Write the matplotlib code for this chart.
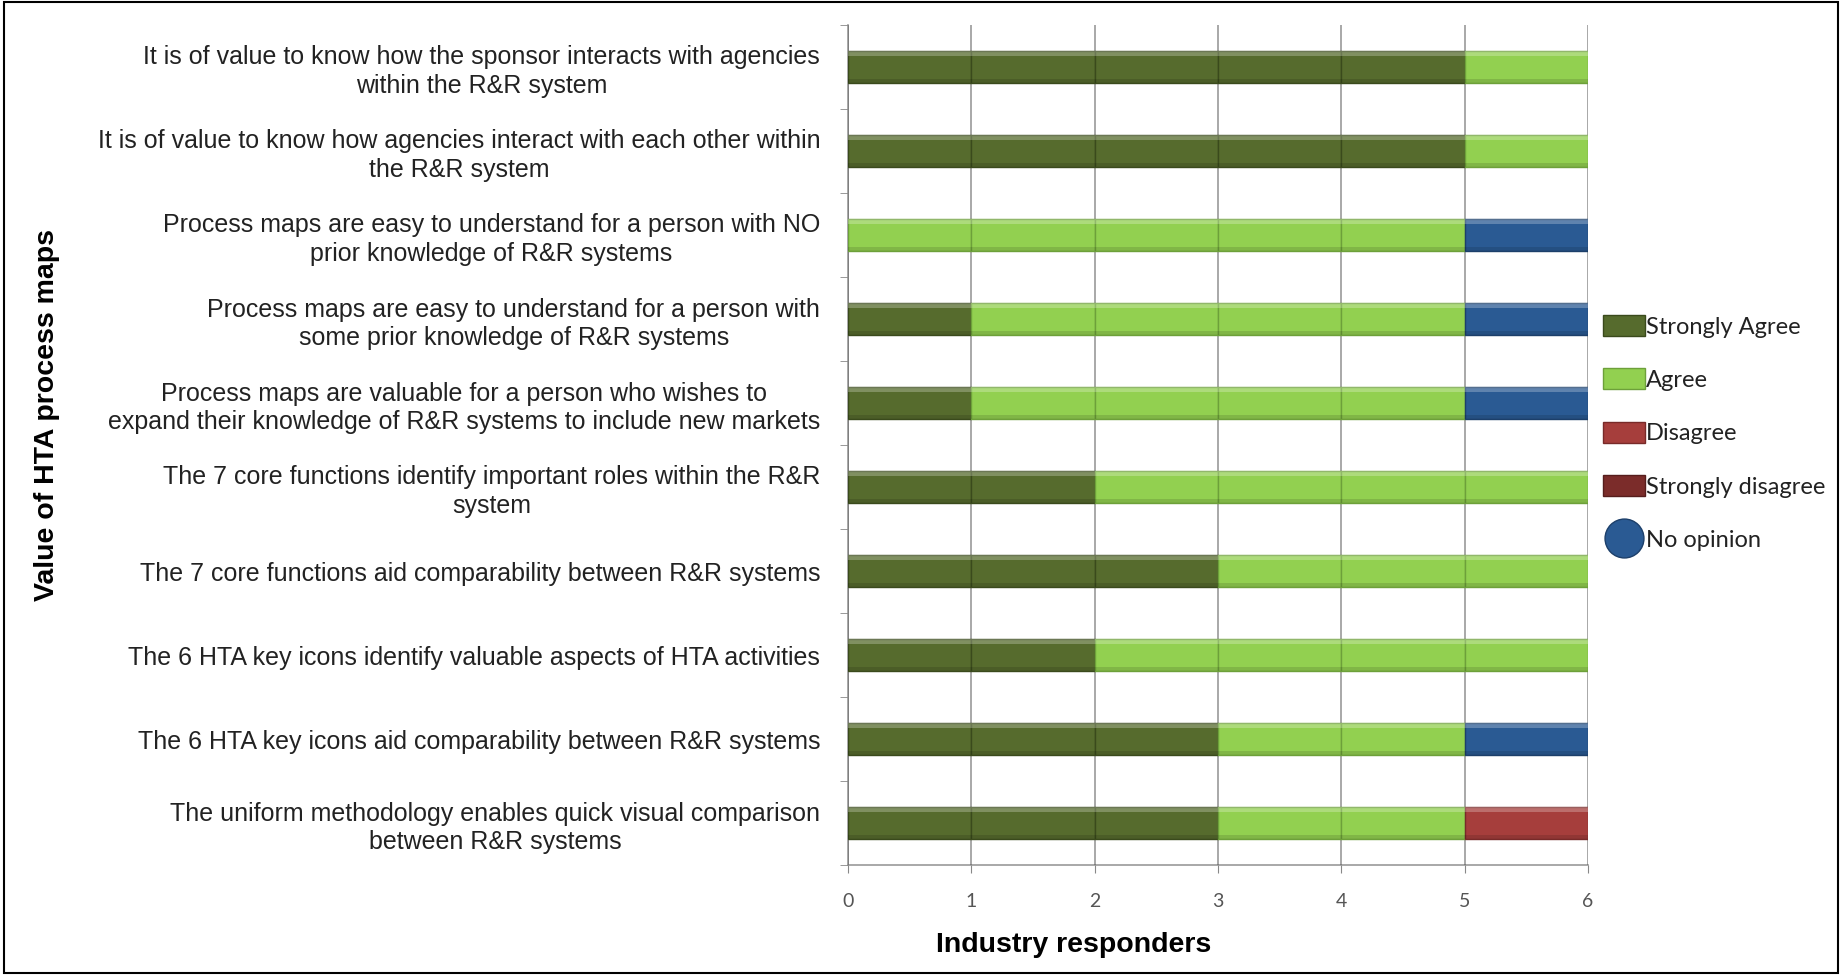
import numpy as np
import matplotlib
matplotlib.use("Agg")
import matplotlib.pyplot as plt
from matplotlib.patches import Patch, Rectangle
from matplotlib.lines import Line2D

# ---- data (top to bottom) ----
statements = [
    "It is of value to know how the sponsor interacts with agencies\nwithin the R&R system",
    "It is of value to know how agencies interact with each other within\nthe R&R system",
    "Process maps are easy to understand for a person with NO\nprior knowledge of R&R systems",
    "Process maps are easy to understand for a person with\nsome prior knowledge of R&R systems",
    "Process maps are valuable for a person who wishes to\nexpand their knowledge of R&R systems to include new markets",
    "The 7 core functions identify important roles within the R&R\nsystem",
    "The 7 core functions aid comparability between R&R systems",
    "The 6 HTA key icons identify valuable aspects of HTA activities",
    "The 6 HTA key icons aid comparability between R&R systems",
    "The uniform methodology enables quick visual comparison\nbetween R&R systems",
]
strongly_agree = [5, 5, 0, 1, 1, 2, 3, 2, 3, 3]
agree = [1, 1, 5, 4, 4, 4, 3, 4, 2, 2]
disagree = [0, 0, 0, 0, 0, 0, 0, 0, 0, 1]
strongly_disagree = [0, 0, 0, 0, 0, 0, 0, 0, 0, 0]
no_opinion = [0, 0, 1, 1, 1, 0, 0, 0, 1, 0]

series = [
    ("Strongly Agree", strongly_agree, "#566b2d", "#3a4a1c"),
    ("Agree", agree, "#92d050", "#6da03a"),
    ("Disagree", disagree, "#a63e3c", "#782a29"),
    ("Strongly disagree", strongly_disagree, "#7b2c2a", "#561d1c"),
    ("No opinion", no_opinion, "#2a5a93", "#1c3f6a"),
]

fig = plt.figure(figsize=(18.42, 9.75), dpi=100)
ax = fig.add_axes([848 / 1842, 1 - 865 / 975, 740 / 1842, 840 / 975])

y = np.arange(len(statements))
bar_h = 0.38
left = np.zeros(len(statements))
for name, vals, col, edge in series:
    vals = np.array(vals)
    for i in range(len(statements)):
        for k in range(vals[i]):
            x0 = left[i] + k
            ax.barh(y[i], 1, left=x0, height=bar_h, color=col,
                    edgecolor=edge, linewidth=1.0, zorder=3)
            # bevel highlight along the top edge
            ax.barh(y[i] - bar_h / 2 + bar_h * 0.07, 1, left=x0,
                    height=bar_h * 0.14, color="white", alpha=0.25,
                    linewidth=0, zorder=4)
            # shadow along bottom edge
            ax.barh(y[i] + bar_h / 2 - bar_h * 0.06, 1, left=x0,
                    height=bar_h * 0.12, color="black", alpha=0.12,
                    linewidth=0, zorder=4)
    left += vals

ax.set_xlim(0, 6)
ax.set_ylim(len(statements) - 0.5, -0.5)
ax.set_xticks(range(7))
ax.set_yticks(y)
ax.set_yticklabels(statements, fontsize=18, family="Liberation Sans",
                   multialignment="center", color="#222222", linespacing=1.25)
ax.set_yticks(np.arange(-0.5, len(statements), 1), minor=True)
ax.tick_params(axis="y", which="major", length=0, pad=20)
ax.tick_params(axis="y", which="minor", length=6, color="#888888", direction="out")
ax.tick_params(axis="x", length=6, color="#888888", direction="out", pad=14,
               labelsize=14, labelcolor="#555555")
for lab in ax.get_xticklabels():
    lab.set_family("Lato")

ax.grid(axis="x", color="#555555", alpha=0.55, linewidth=1.3, zorder=5)
ax.set_axisbelow(False)
for s in ["top", "right"]:
    ax.spines[s].set_visible(False)
for s in ["left", "bottom"]:
    ax.spines[s].set_color("#999999")
    ax.spines[s].set_linewidth(1.2)

fig.text(1074 / 1842, 1 - 945 / 975, "Industry responders", fontsize=20.5,
         fontweight="bold", family="Liberation Sans", ha="center", va="center")
fig.text(47 / 1842, 1 - 415 / 975, "Value of HTA process maps", rotation=90,
         fontsize=20.5, fontweight="bold", family="Liberation Sans",
         ha="center", va="center")

handles = []
for name, vals, col, edge in series:
    if name == "No opinion":
        handles.append(Line2D([], [], marker="o", linestyle="none",
                              markersize=28, markerfacecolor=col,
                              markeredgecolor=edge, label=name))
    else:
        handles.append(Patch(facecolor=col, edgecolor=edge, label=name))
fig.legend(handles=handles, loc="center left",
           bbox_to_anchor=(1582 / 1842, 1 - 433 / 975), frameon=False,
           prop={"family": "Lato", "size": 17}, handlelength=1.75,
           handleheight=1.0, handletextpad=0.05, labelspacing=1.3,
           labelcolor="#222222")

# outer frame
fig.patches.append(Rectangle((0.002, 0.002), 0.996, 0.996, transform=fig.transFigure,
                             fill=False, edgecolor="black", linewidth=1.5))

fig.savefig("out.png", dpi=100)
